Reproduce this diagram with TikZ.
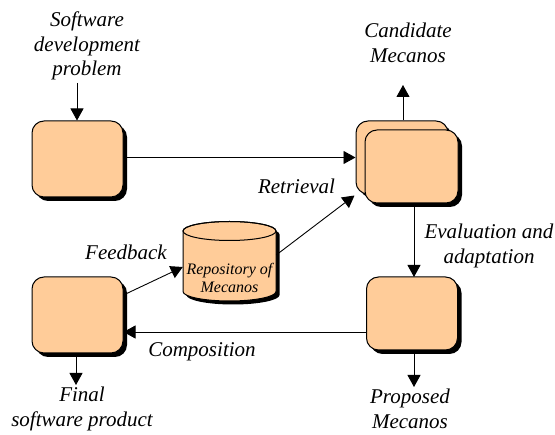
\documentclass[tikz,border=0pt]{standalone}
\usepackage{fontspec}
\setmainfont{Liberation Serif}
\newfontfamily\diagfont{Liberation Serif}
\usetikzlibrary{arrows.meta,shadows}

\definecolor{peach}{HTML}{FFCC99}

\tikzset{
  stage/.style={draw=black, line width=1pt, fill=peach, rounded corners=12pt,
    inner sep=0pt, drop shadow={shadow xshift=4pt, shadow yshift=-4pt, fill=black, opacity=1}},
  lbl/.style={font=\diagfont\itshape\fontsize{21}{24.5}\selectfont, align=center, inner sep=0pt},
  flow/.style={line width=0.9pt, -{Triangle[length=12pt,width=13pt]}}
}

\begin{document}
\begin{tikzpicture}[x=1pt,y=1pt]
\useasboundingbox (0,0) rectangle (555,-435);

% process stages
\node[stage, minimum width=91pt, minimum height=76pt] (A) at (77.5,-159) {};
\node[stage, minimum width=92pt, minimum height=73pt] (Bback) at (402,-157.5) {};
\node[stage, minimum width=93pt, minimum height=73pt] (Bfront) at (411.5,-166.5) {};
\node[stage, minimum width=91pt, minimum height=73pt] (C) at (412,-313.5) {};
\node[stage, minimum width=91pt, minimum height=76pt] (D) at (77.5,-315) {};

% repository cylinder
\fill[black, shift={(3.5,-3.5)}] (183,-231) -- (183,-291.5)
  arc[start angle=180, end angle=360, x radius=46.5, y radius=9.5] -- (276,-231)
  arc[start angle=0, end angle=180, x radius=46.5, y radius=9.5] -- cycle;
\filldraw[fill=peach, draw=black, line width=1pt] (183,-231) -- (183,-291.5)
  arc[start angle=180, end angle=360, x radius=46.5, y radius=9.5] -- (276,-231)
  arc[start angle=0, end angle=180, x radius=46.5, y radius=9.5] -- cycle;
\draw[line width=1pt] (229.5,-231) ellipse[x radius=46.5, y radius=9.5];
\node[minimum width=93pt, minimum height=79pt, inner sep=0pt] (R) at (229.5,-261.5) {};
\node[font=\diagfont\itshape\fontsize{16}{18}\selectfont, align=center, inner sep=0pt] (Rtxt)
  at (229.5,-278) {Repository of\\Mecanos};

% labels
\node[lbl] (prob) at (87,-46) {Software\\development\\problem};
\node[lbl] (cand) at (408,-43) {Candidate\\Mecanos};
\node[lbl] (retr) at (296.5,-186) {Retrieval};
\node[lbl] (eval) at (489,-246) {Evaluation and\\adaptation};
\node[lbl] (feed) at (126,-252) {Feedback};
\node[lbl] (comp) at (202,-352) {Composition};
\node[lbl] (final) at (82,-409) {Final\\software product};
\node[lbl] (prop) at (410,-409) {Proposed\\Mecanos};

% free ends of the open arrows
\coordinate (probEnd) at (77,-83);
\coordinate (candEnd) at (403,-85);
\coordinate (propEnd) at (414,-387);
\coordinate (finalEnd) at (76,-385);

% connectors
\draw[flow] (probEnd) -- (probEnd |- A.north);
\draw[flow] (A.east |- 0,-157.5) -- (Bback.west);
\draw[flow] (candEnd |- Bback.north) -- (candEnd);
\draw[flow] (R.east |- 0,-255) -- ([xshift=-1pt,yshift=-1pt]Bback.south west);
\draw[flow] (414,-203) -- (414,-277);
\draw[flow] (propEnd |- C.south) -- (propEnd);
\draw[flow] (C.west |- 0,-332) -- (D.east |- 0,-332);
\draw[flow] (finalEnd |- D.south) -- (finalEnd);
\draw[flow] (D.east |- 0,-295) -- (R.west |- 0,-267);
\end{tikzpicture}
\end{document}
